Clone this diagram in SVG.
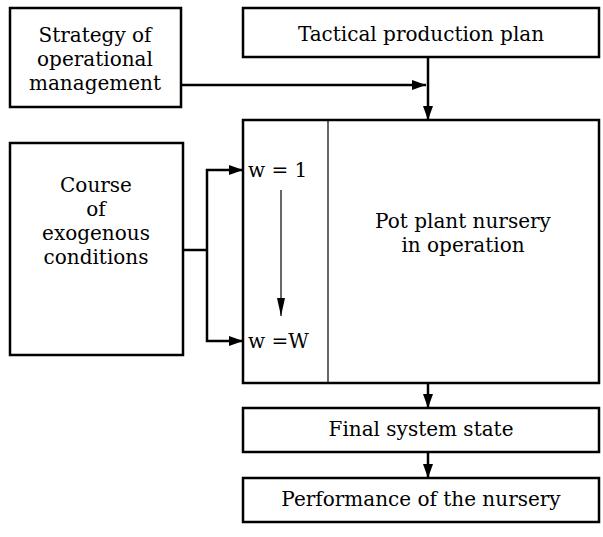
<svg xmlns="http://www.w3.org/2000/svg" width="603" height="537" viewBox="0 0 603 537">
<defs>
<marker id="ah" markerWidth="14" markerHeight="10" refX="14" refY="5" orient="auto" markerUnits="userSpaceOnUse">
<path d="M0,0 L14,5 L0,10 Z" fill="#000"/>
</marker>
<marker id="ahs" markerWidth="18" markerHeight="8" refX="18" refY="4" orient="auto" markerUnits="userSpaceOnUse">
<path d="M0,0 L18,4 L0,8 Z" fill="#000"/>
</marker>
<style>
.box{fill:#fff;stroke:#000;stroke-width:2.5}
.t{font-family:"DejaVu Serif","Liberation Serif",serif;font-size:20px;fill:#000;text-anchor:middle}
.tl{font-family:"DejaVu Serif","Liberation Serif",serif;font-size:20px;fill:#000}
.c{fill:none;stroke:#000;stroke-width:2.5}
.thin{fill:none;stroke:#000;stroke-width:1.2}
</style>
</defs>
<rect width="603" height="537" fill="#fff"/>
<g id="strategy">
<rect class="box" x="10" y="8" width="171" height="99"/>
<text class="t" x="95" y="42">Strategy of</text>
<text class="t" x="95" y="66">operational</text>
<text class="t" x="95" y="90">management</text>
</g>
<g id="tactical">
<rect class="box" x="243" y="8" width="356" height="49"/>
<text class="t" x="421" y="41">Tactical production plan</text>
</g>
<g id="course">
<rect class="box" x="10" y="143" width="173" height="212"/>
<text class="t" x="96" y="192">Course</text>
<text class="t" x="96" y="216">of</text>
<text class="t" x="96" y="240">exogenous</text>
<text class="t" x="96" y="264">conditions</text>
</g>
<g id="nursery">
<rect class="box" x="243" y="120" width="356" height="263"/>
<line class="thin" x1="328" y1="120" x2="328" y2="383"/>
<text class="t" x="463" y="228">Pot plant nursery</text>
<text class="t" x="463" y="252">in operation</text>
<text class="tl" x="248" y="177">w = 1</text>
<text class="tl" x="248" y="348">w =W</text>
<line class="thin" x1="281" y1="190" x2="281" y2="316" marker-end="url(#ahs)"/>
</g>
<g id="final">
<rect class="box" x="243" y="408" width="356" height="44"/>
<text class="t" x="421" y="436">Final system state</text>
</g>
<g id="performance">
<rect class="box" x="243" y="478" width="356" height="44"/>
<text class="t" x="421" y="506">Performance of the nursery</text>
</g>
<g id="connectors">
<line class="c" x1="428" y1="57" x2="428" y2="120" marker-end="url(#ah)"/>
<line class="c" x1="181" y1="85" x2="426" y2="85" marker-end="url(#ah)"/>
<line class="c" x1="183" y1="250" x2="207" y2="250"/>
<polyline class="c" points="207,250 207,170 243,170" marker-end="url(#ah)"/>
<polyline class="c" points="207,250 207,341 243,341" marker-end="url(#ah)"/>
<line class="c" x1="428" y1="383" x2="428" y2="408" marker-end="url(#ah)"/>
<line class="c" x1="428" y1="452" x2="428" y2="478" marker-end="url(#ah)"/>
</g>
</svg>
